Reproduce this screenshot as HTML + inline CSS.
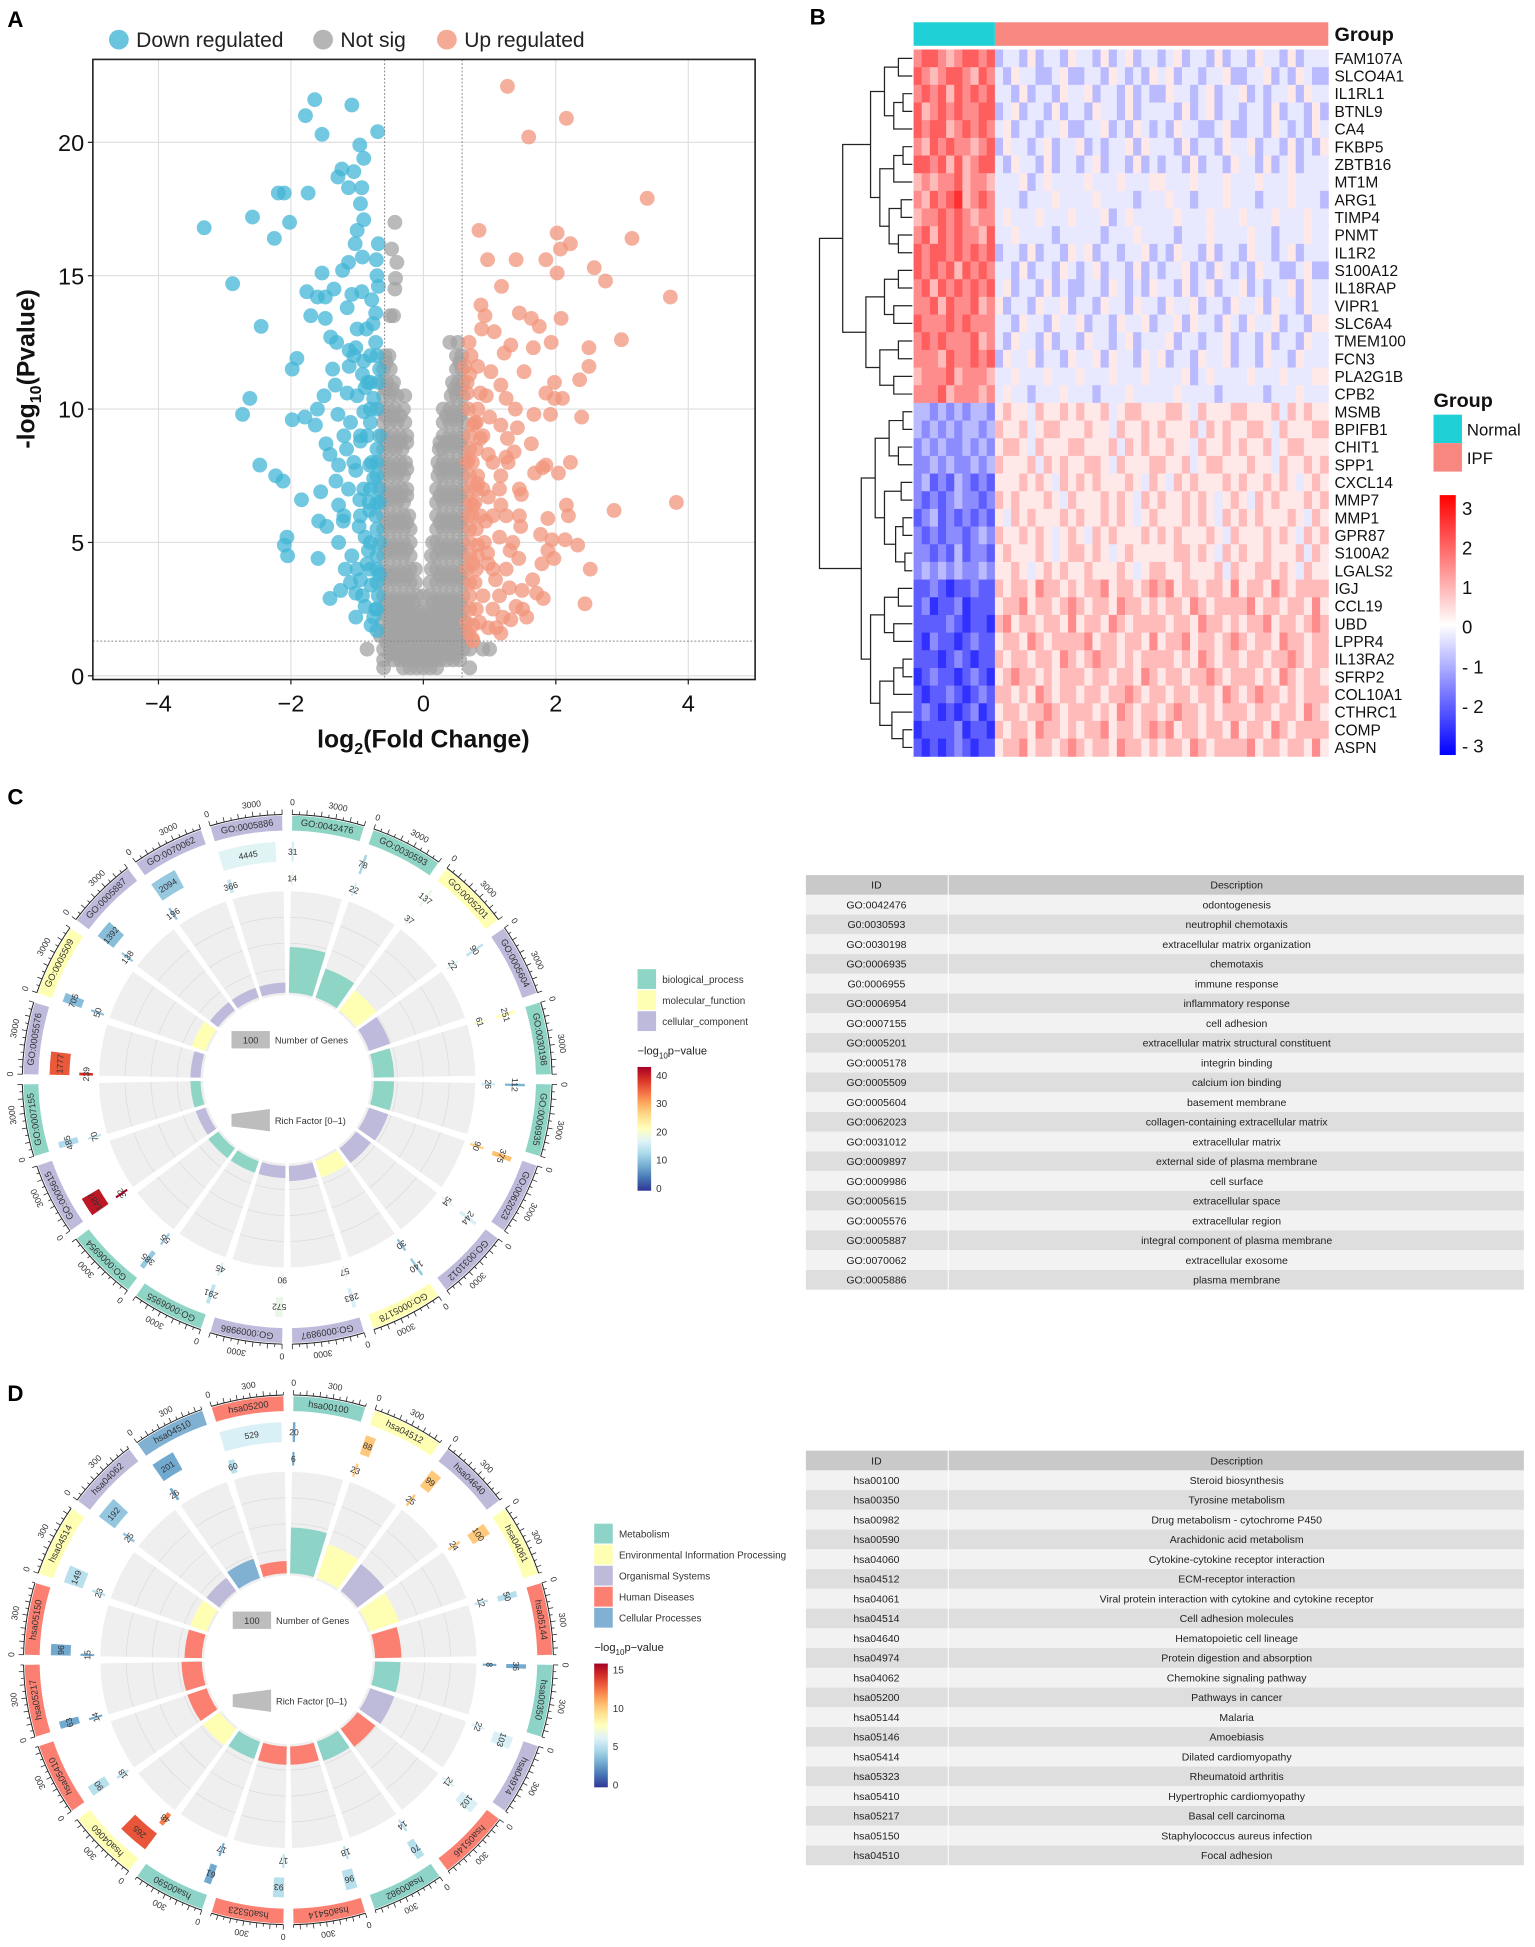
<!DOCTYPE html>
<html><head><meta charset="utf-8">
<style>
html,body{margin:0;padding:0;background:#fff;}
svg{display:block;font-family:"Liberation Sans",Arial,sans-serif;}
</style></head>
<body>
<svg id="fig" xmlns="http://www.w3.org/2000/svg" width="1535" height="1947" viewBox="0 0 1240 1573" preserveAspectRatio="none">
<rect x="0" y="0" width="1240" height="1573" fill="#fff"/>
<text x="6" y="22" font-size="18" font-weight="bold">A</text>
<text x="654" y="20" font-size="18" font-weight="bold">B</text>
<text x="6" y="650" font-size="18" font-weight="bold">C</text>
<text x="6" y="1132" font-size="18" font-weight="bold">D</text>
<g id="volcano"></g>
<g id="heat"></g>
<g id="circC"></g>
<g id="circD"></g>
<g id="tables"></g>
</svg>
<script>
// ================= Volcano data =================
const blueX=[-3.31,-2.58,-2.88,-2.45,-2.62,-2.73,-2.19,-2.1,-2.25,-2.02,-1.74,-1.78,-1.64,-1.53,-1.08,-0.69,-0.96,-0.9,-1.23,-1.29,-1.05,-1.13,-0.93,-0.95,-0.9,-1.0,-1.03,-0.68,-0.71,-0.92,-1.53,-1.13,-1.22,-1.76,-1.6,-1.48,-1.35,-1.08,-0.93,-0.78,-1.7,-1.48,-1.15,-0.72,-1.4,-1.31,-1.12,-1.02,-0.72,-1.91,-1.98,-1.37,-1.12,-0.92,-1.33,-1.5,-1.15,-0.88,-1.6,-1.79,-1.98,-1.63,-1.29,-1.1,-0.9,-1.47,-1.41,-1.16,-0.95,-1.28,-1.02,-0.81,-2.47,-2.23,-2.12,-1.32,-1.55,-1.13,-1.84,-1.28,-0.96,-0.81,-1.58,-1.46,-1.21,-0.97,-2.06,-2.1,-2.05,-1.59,-1.28,-1.08,-0.83,-1.18,-0.95,-1.41,-1.25,-1.02,-0.79,-1.02,-0.79,-0.72,
-0.68,-0.7,-0.66,-0.72,-0.67,-0.7,-0.66,-0.7,-0.68,-0.7,-0.8,-0.82,-0.78,-0.85,-0.8,-0.84,-0.8,-0.86,-0.9,-0.92,-0.88,-0.75,-0.7,-0.85,-0.95,-0.95,-1.0,-1.05,-0.76,-0.68,-0.7,-0.66,-0.66,-0.66,-1.05,-1.2,-1.0,-1.1,-1.2,-1.0,-0.75,-0.75,-0.9,-0.88,
-0.7,-0.7,-0.7,-0.7,-0.7,-0.7,-0.7,-0.8,-0.8,-0.8,-0.8];
const blueY=[16.8,17.2,14.7,13.1,10.4,9.8,18.1,18.1,16.4,17.0,18.1,21.0,21.6,20.3,21.4,20.4,19.9,19.4,19.0,18.7,18.9,18.3,18.3,17.7,17.1,16.7,16.2,16.2,15.6,15.7,15.1,15.5,15.2,14.4,14.2,14.2,14.5,14.3,14.4,14.1,13.5,13.4,13.8,13.6,12.7,12.5,12.2,12.3,12.5,11.9,11.5,11.5,11.6,11.3,10.9,10.5,10.6,10.8,10.0,9.7,9.6,9.4,9.8,9.5,9.9,8.7,8.3,8.5,8.8,7.9,7.7,7.9,7.9,7.5,7.3,7.3,6.9,7.0,6.6,6.4,6.6,6.2,5.8,5.6,5.8,5.6,5.2,4.9,4.5,4.4,5.0,4.5,4.7,4.0,3.6,2.9,3.2,3.1,3.4,2.2,1.9,2.5,
3,4,5,6,7,8,9,10,11,12,5,6.5,8,9,10,11,12,13,7,3,2.6,2.2,1.7,4.2,6,9,10.5,12,13.2,14.6,15,11.5,6.5,3.8,8,6,4,3.5,9,13,7.4,10.4,11.8,5.2,
2.5,3.5,4.5,5.5,6.5,7.5,8.5,4,7,9.5,11];
const redX=[1.27,2.16,1.59,3.38,0.84,2.02,3.15,2.22,2.07,0.97,1.4,1.85,2.02,2.58,2.75,3.73,1.18,0.87,0.93,1.45,1.63,2.08,1.75,0.88,1.07,0.69,1.32,1.66,1.93,2.99,2.5,2.5,1.22,0.63,0.82,1.02,1.52,2.36,1.98,1.17,0.86,1.85,2.1,1.98,1.25,1.39,0.82,1.67,1.92,2.39,1.0,0.75,1.17,1.42,0.86,1.27,1.63,1.37,0.98,0.68,1.28,1.85,2.22,1.8,2.04,1.68,1.17,0.82,1.45,1.48,0.98,0.75,1.17,2.16,2.88,3.82,2.19,1.45,1.88,0.94,1.47,1.77,1.94,2.14,2.33,1.88,1.97,1.79,1.31,0.82,0.98,1.44,2.52,1.65,1.09,1.49,1.71,1.81,2.44,1.5,1.56,1.32,0.75,0.98,1.17,0.75,
0.65,0.7,0.66,0.7,0.68,0.7,0.66,0.7,0.68,0.66,0.8,0.78,0.82,0.8,0.78,0.82,0.8,0.78,0.9,0.92,0.9,0.9,0.95,1.05,1.05,1.05,1.05,1.15,1.15,1.15,1.25,1.25,1.25,1.35,0.68,0.74,0.85,1.1,1.2,1.3,1.4,0.7,0.66,0.72,0.75,0.74,0.74,0.86,0.97,
0.7,0.7,0.7,0.7,0.7,0.7,0.7,0.8,0.8,0.8];
const redY=[22.1,20.9,20.2,17.9,16.7,16.6,16.4,16.2,16.0,15.6,15.6,15.6,15.1,15.3,14.8,14.2,14.6,13.9,13.5,13.6,13.4,13.4,13.1,13.0,12.9,12.5,12.4,12.3,12.5,12.6,12.3,11.6,12.1,11.6,11.6,11.4,11.4,11.1,11.0,10.9,10.6,10.6,10.4,10.4,10.4,10.0,10.0,9.8,9.8,9.7,9.7,9.4,9.4,9.3,8.9,8.9,8.7,8.4,8.3,8.1,8.0,7.9,8.0,7.8,7.6,7.6,7.5,7.2,7.0,6.8,6.7,6.4,6.4,6.4,6.2,6.5,6.0,6.0,5.9,5.8,5.6,5.3,5.1,5.1,4.9,4.7,4.4,4.2,4.7,4.9,4.2,4.4,4.0,3.6,3.6,3.2,3.1,2.9,2.7,2.5,2.2,2.1,1.9,1.8,1.6,1.3,
2,3,4,5,6,7,8,9,10,11,2.5,3.5,4.5,5.5,6.5,7.5,8.5,9.5,3,5,7,9,10.5,2.5,4,6,8,3,5.2,7,4,6,8.2,5,1.6,1.4,2,1.8,2.2,3.3,2.6,11.3,10.6,12,4.2,6,8,6,4.6,
2.5,3.5,4.5,5.5,6.5,7.5,8.5,4,7,9.5];
const greyRowY=[17,16,15.5,14.9,14.5,13.5,12.5,12,11.75,11.5,11,10.75,10.5,10,9.75,9.5,9,8.75,8.5,8,7.75,7.5,7,6.75,6.5,6,5.75,5.5,5,4.75,4.5,4,3.75,3.5,3,2.75,2.5,2.25,2,1.75,1.5,1.25,1,0.8,0.6,0.3];
const greyRowX=[[-0.43],[-0.48],[-0.4],[-0.42],[-0.43],[-0.5,-0.45],[0.52,0.4],
[-0.58,-0.52,0.5,0.58],[-0.56,0.55],[-0.6,-0.5,0.58,0.5],[-0.62,-0.55,-0.45,0.6,0.52,0.44],[-0.57,-0.47,0.56,0.47],[-0.6,-0.5,-0.4,-0.28,0.6,0.5,0.42],[-0.62,-0.52,-0.43,-0.3,0.6,0.5,0.4,0.3],[-0.57,-0.47,-0.35,0.55,0.45,0.35],
[-0.6,-0.5,-0.4,-0.28,0.6,0.5,0.4,0.3],[-0.62,-0.55,-0.45,-0.35,-0.25,0.6,0.5,0.4,0.3],[-0.55,-0.45,-0.35,-0.25,0.55,0.45,0.35,0.25],[-0.6,-0.5,-0.42,-0.32,0.6,0.5,0.4,0.3,0.24],[-0.62,-0.55,-0.45,-0.35,-0.27,0.6,0.5,0.4,0.3,0.22],[-0.55,-0.45,-0.35,-0.25,0.55,0.45,0.35,0.25],
[-0.6,-0.5,-0.4,-0.3,0.6,0.5,0.4,0.3,0.22],[-0.62,-0.52,-0.43,-0.33,-0.25,0.6,0.5,0.4,0.3,0.2],[-0.55,-0.45,-0.35,-0.25,0.55,0.45,0.35,0.25],[-0.6,-0.5,-0.4,-0.3,0.6,0.5,0.4,0.3,0.2],[-0.6,-0.5,-0.4,-0.3,-0.22,0.6,0.5,0.4,0.3,0.2],[-0.55,-0.45,-0.35,-0.25,0.55,0.45,0.35,0.25],
[-0.6,-0.5,-0.4,-0.3,-0.2,0.6,0.5,0.4,0.3,0.2],[-0.6,-0.5,-0.4,-0.3,-0.2,0.6,0.5,0.4,0.3,0.2,0.14],[-0.55,-0.45,-0.35,-0.25,0.55,0.45,0.35,0.25],[-0.6,-0.5,-0.4,-0.3,-0.2,0.6,0.5,0.4,0.3,0.2,0.12],[-0.6,-0.5,-0.4,-0.3,-0.2,-0.12,0.6,0.5,0.4,0.3,0.2,0.12],[-0.55,-0.45,-0.35,-0.25,0.55,0.45,0.35,0.25],
[-0.6,-0.5,-0.4,-0.3,-0.2,-0.12,0.6,0.5,0.4,0.3,0.2,0.1],[-0.6,-0.5,-0.4,-0.3,-0.2,-0.1,0,0.1,0.2,0.3,0.4,0.5,0.6],[-0.55,-0.45,-0.35,-0.25,-0.15,0.15,0.25,0.35,0.45,0.55],[-0.6,-0.5,-0.4,-0.3,-0.2,-0.1,0,0.1,0.2,0.3,0.4,0.5,0.6],
[-0.55,-0.45,-0.35,-0.25,-0.15,-0.05,0.05,0.15,0.25,0.35,0.45,0.55],[-0.62,-0.5,-0.4,-0.3,-0.2,-0.1,0,0.1,0.2,0.3,0.4,0.5,0.62],[-0.55,-0.45,-0.35,-0.25,-0.15,-0.05,0.05,0.15,0.25,0.35,0.45,0.55],[-0.65,-0.55,-0.45,-0.35,-0.25,-0.15,-0.05,0.05,0.15,0.25,0.35,0.45,0.55,0.65],[-0.55,-0.45,-0.35,-0.25,-0.15,-0.05,0.05,0.15,0.25,0.35,0.45,0.55],[-0.85,-0.6,-0.5,-0.4,-0.3,-0.2,-0.1,0,0.1,0.2,0.3,0.4,0.5,0.6,0.7,0.9,1.0],
[-0.5,-0.4,-0.3,-0.2,-0.1,0,0.1,0.2,0.3,0.4,0.5],[-0.6,-0.45,-0.35,-0.25,-0.15,-0.05,0.05,0.15,0.25,0.35,0.45,0.55],[-0.6,-0.3,-0.2,-0.1,0,0.1,0.2,0.7]];
const xTicks=[-4,-2,0,2,4];
const yTicks=[0,5,10,15,20];

// ================= Heatmap data =================
const genes=["FAM107A","SLCO4A1","IL1RL1","BTNL9","CA4","FKBP5","ZBTB16","MT1M","ARG1","TIMP4","PNMT","IL1R2","S100A12","IL18RAP","VIPR1","SLC6A4","TMEM100","FCN3","PLA2G1B","CPB2","MSMB","BPIFB1","CHIT1","SPP1","CXCL14","MMP7","MMP1","GPR87","S100A2","LGALS2","IGJ","CCL19","UBD","LPPR4","IL13RA2","SFRP2","COL10A1","CTHRC1","COMP","ASPN"];
const normalCount=10;
const heatRows=[
"7887678878 3443534435 4435345344 3453443534 4354435344 4",
"8767887687 4354433453 3443543435 4534434453 3445343543 3",
"7878687878 4435344354 4534435343 3544345344 5343445354 4",
"8678787788 3453443534 4354435344 4435345344 3443534435 3",
"8788678787 4534434453 3445343543 4354433453 3443543435 4",
"7687877678 3544345344 5343445354 4435344354 4534435343 5",
"8878686788 4354435344 3453443534 3443534435 4435345344 4",
"6767786776 4445345444 4544454445 5444544454 4454445444 4",
"7687896787 4443444544 4454444344 4544344454 4434445444 3",
"6778787677 4544454445 4445345444 4454445444 5444544454 4",
"7868787768 4454444344 4443444544 4434445444 4544344454 4",
"8788787878 3443534435 4534434453 4354435344 3544345344 4",
"8787868787 4435344354 3453443534 3445343543 4354433453 3",
"7868787878 4534435343 3443543435 4435345344 5343445354 4",
"7786877867 5344354453 4435443544 3544534435 4453544354 4",
"8777878777 4435443544 5344354453 4453544354 3544534435 5",
"7878777867 4354435344 3544345344 4534434453 4435344354 4",
"7776877878 3544534435 4453544354 5344354453 4435443544 4",
"6777867776 4454445444 5444544454 4445345444 4544454445 5",
"7778677767 4544344454 4434445444 4454444344 4443444544 4",
"3323232332 5655465565 6556456655 5665465556 6555646565 5",
"3232323323 6556456655 5655465565 6555646565 5665465556 6",
"2323223232 5665465556 6555646565 5655465565 6556456655 5",
"2232322323 6555646565 5665465556 6556456655 5655465565 6",
"2312132121 5556565465 6565556546 5465655565 6556565456 5",
"2121232212 6565556546 5556565465 6556565456 5465655565 6",
"1231212121 5465655565 6556565456 5556565465 6565556546 5",
"2121221232 6556565456 5465655565 6565556546 5556565465 6",
"2212131221 5655565456 6565456555 5566565465 6556555646 5",
"2323232232 5565456565 5655565456 6556555646 5566565465 5",
"1121011211 6566576656 5667566567 6756656657 5665765666 6",
"1201120111 5667566567 6566576656 5665765666 6756656657 5",
"1111210110 6756656657 5665765666 6566576656 5667566567 6",
"1021101211 5665765666 6756656657 5667566567 6566576656 6",
"1110121011 6566566576 5676656566 6656576566 5665667656 6",
"0121101210 5676656566 6566566576 5665667656 6656576566 5",
"1011210121 6656576566 5665667656 6566566576 5676656566 6",
"1210101201 5665667656 6656576566 5676656566 6566566576 5",
"0111120110 6566576656 5667566567 6756656657 5665765666 6",
"1010121011 5667566567 6566576656 5665765666 6756656657 5"];
const colorTicks=[3,2,1,0,-1,-2,-3];

// ================= Circle C data =================
const goIds=["GO:0042476","GO:0030593","GO:0005201","GO:0005604","GO:0030198","GO:0006935","GO:0062023","GO:0031012","GO:0005178","GO:0009897","GO:0009986","GO:0006955","GO:0006954","GO:0005615","GO:0007155","GO:0005576","GO:0005509","GO:0005887","GO:0070062","GO:0005886"];
const goCats=[0,0,1,2,0,0,2,2,1,2,2,0,0,2,0,2,1,2,2,2];
const goBg=[31,78,137,90,251,112,375,244,140,283,572,291,385,1487,485,1777,705,1392,2094,4445];
const goDe=[14,22,37,22,61,26,90,54,30,57,90,45,55,32,70,239,50,138,196,366];
const goBgP=[16,12,18,14,21,9,28,16,11,16,18,14,11,40,13,35,10,10,11,17];
const goDeP=[18,16,18,17,20,15,27,18,10,18,18,16,11,42,14,38,10,11,10,15];
const goRich=[0.45,0.3,0.25,0.22,0.2,0.2,0.2,0.18,0.17,0.15,0.12,0.12,0.12,0.1,0.1,0.1,0.14,0.1,0.1,0.1];
const goCatNames=["biological_process","molecular_function","cellular_component"];

// ================= Circle D data =================
const keggIds=["hsa00100","hsa04512","hsa04640","hsa04061","hsa05144","hsa00350","hsa04974","hsa05146","hsa00982","hsa05414","hsa05323","hsa00590","hsa04060","hsa05410","hsa05217","hsa05150","hsa04514","hsa04062","hsa04510","hsa05200"];
const keggCats=[0,1,2,1,3,0,2,3,0,3,3,0,1,3,3,3,1,2,4,3];
const keggBg=[20,88,99,100,50,36,103,102,70,96,93,61,265,90,63,96,149,192,201,529];
const keggDe=[6,23,25,24,12,8,22,21,14,18,17,17,48,18,14,15,23,25,26,60];
const keggBgP=[3,10,10,10,5,3,6,6,5,5,5,3,13,5,3,3,5,4,3,6];
const keggDeP=[3,10,10,10,5,3,6,6,5,5,5,3,12,5,3,3,5,4,3,5];
const keggRich=[0.45,0.35,0.33,0.3,0.26,0.25,0.25,0.22,0.2,0.18,0.18,0.18,0.2,0.2,0.2,0.17,0.17,0.16,0.2,0.12];
const keggCatNames=["Metabolism","Environmental Information Processing","Organismal Systems","Human Diseases","Cellular Processes"];

// ================= Table data =================
const goDesc=["odontogenesis","neutrophil chemotaxis","extracellular matrix organization","chemotaxis","immune response","inflammatory response","cell adhesion","extracellular matrix structural constituent","integrin binding","calcium ion binding","basement membrane","collagen-containing extracellular matrix","extracellular matrix","external side of plasma membrane","cell surface","extracellular space","extracellular region","integral component of plasma membrane","extracellular exosome","plasma membrane"];
const goTableIds=["GO:0042476","G0:0030593","GO:0030198","GO:0006935","G0:0006955","GO:0006954","GO:0007155","GO:0005201","GO:0005178","GO:0005509","GO:0005604","GO:0062023","GO:0031012","GO:0009897","GO:0009986","GO:0005615","GO:0005576","GO:0005887","GO:0070062","GO:0005886"];
const keggTableIds=["hsa00100","hsa00350","hsa00982","hsa00590","hsa04060","hsa04512","hsa04061","hsa04514","hsa04640","hsa04974","hsa04062","hsa05200","hsa05144","hsa05146","hsa05414","hsa05323","hsa05410","hsa05217","hsa05150","hsa04510"];
const keggDesc=["Steroid biosynthesis","Tyrosine metabolism","Drug metabolism - cytochrome P450","Arachidonic acid metabolism","Cytokine-cytokine receptor interaction","ECM-receptor interaction","Viral protein interaction with cytokine and cytokine receptor","Cell adhesion molecules","Hematopoietic cell lineage","Protein digestion and absorption","Chemokine signaling pathway","Pathways in cancer","Malaria","Amoebiasis","Dilated cardiomyopathy","Rheumatoid arthritis","Hypertrophic cardiomyopathy","Basal cell carcinoma","Staphylococcus aureus infection","Focal adhesion"];

const NS="http://www.w3.org/2000/svg";
function mk(tag,attrs,parent,txt){const e=document.createElementNS(NS,tag);for(const k in attrs)e.setAttribute(k,attrs[k]);if(txt!==undefined)e.textContent=txt;parent.appendChild(e);return e;}

// ================= Volcano =================
(function(){
const g=document.getElementById('volcano');
const X0=75,X1=610,Y0=48,Y1=549;
const sx=v=>342+v*53.5, sy=v=>546-v*21.55;
let e;
e=mk('rect',{x:X0,y:Y0,width:X1-X0,height:Y1-Y0,fill:'#fff'},g);


[-4,-2,0,2,4].forEach(v=>{e=mk('line',{x1:sx(v),x2:sx(v),y1:Y0,y2:Y1,stroke:'#dedede','stroke-width':0.9},g);

});
yTicks.forEach(v=>{e=mk('line',{x1:X0,x2:X1,y1:sy(v),y2:sy(v),stroke:'#dedede','stroke-width':0.9},g);

});
const pts=(xs,ys,col,name)=>{for(let i=0;i<xs.length;i++){e=mk('circle',{cx:sx(xs[i]),cy:sy(ys[i]),r:6,fill:col,'fill-opacity':0.75},g);

}};
const gx=[],gy=[];greyRowY.forEach((y,i)=>greyRowX[i].forEach(x=>{gx.push(x);gy.push(y);}));
pts(gx,gy,'#a3a3a3','not-sig-point');
pts(blueX,blueY,'#43b6d5','down-point');
pts(redX,redY,'#f2957c','up-point');
[-0.585,0.585].forEach(v=>{e=mk('line',{x1:sx(v),x2:sx(v),y1:Y0,y2:Y1,stroke:'#888','stroke-width':0.8,'stroke-dasharray':'1.5,1.5'},g);

});
e=mk('line',{x1:X0,x2:X1,y1:sy(1.3),y2:sy(1.3),stroke:'#888','stroke-width':0.8,'stroke-dasharray':'1.5,1.5'},g);


e=mk('rect',{x:X0,y:Y0,width:X1-X0,height:Y1-Y0,fill:'none',stroke:'#222','stroke-width':1.3},g);


xTicks.forEach(v=>{e=mk('line',{x1:sx(v),x2:sx(v),y1:Y1,y2:Y1+4,stroke:'#222'},g);


e=mk('text',{x:sx(v),y:575,'font-size':19,'text-anchor':'middle',fill:'#111'},g,v<0?'\u2212'+(-v):String(v));

});
yTicks.forEach(v=>{e=mk('line',{x1:X0-4,x2:X0,y1:sy(v),y2:sy(v),stroke:'#222'},g);


e=mk('text',{x:68,y:sy(v)+7,'font-size':19,'text-anchor':'end',fill:'#111'},g,String(v));

});
e=mk('text',{x:342,y:604,'font-size':20,'font-weight':'bold','text-anchor':'middle',fill:'#111'},g);


e.innerHTML='log<tspan font-size="13" dy="5">2</tspan><tspan dy="-5">(Fold Change)</tspan>';
e=mk('text',{x:0,y:0,'font-size':20,'font-weight':'bold','text-anchor':'middle',fill:'#111',transform:'translate(28,298) rotate(-90)'},g);


e.innerHTML='-log<tspan font-size="13" dy="5">10</tspan><tspan dy="-5">(Pvalue)</tspan>';
const leg=[['#43b6d5','Down regulated',96],['#a3a3a3','Not sig',261],['#f2957c','Up regulated',361]];
leg.forEach(l=>{e=mk('circle',{cx:l[2],cy:32,r:8,fill:l[0],'fill-opacity':0.8},g);


e=mk('text',{x:l[2]+14,y:38,'font-size':17,fill:'#222'},g,l[1]);

});
})();

// ================= Heatmap =================
(function(){
const g=document.getElementById('heat');
const x0=738,x1=1073,y0=40,y1=611;
const rows=heatRows.map(s=>s.replace(/ /g,''));
const nc=rows[0].length, cw=(x1-x0)/nc, rh=(y1-y0)/genes.length;
const col=v=>{const t=Math.max(-1,Math.min(1,v/3));if(t>0){const c=Math.round(255*(1-t));return `rgb(255,${c},${c})`;}const c=Math.round(255*(1+t));return `rgb(${c},${c},255)`;};
let e;
rows.forEach((r,i)=>{for(let j=0;j<nc;j++){const v=(parseInt(r[j])-4.5)/1.85;
e=mk('rect',{x:x0+j*cw,y:y0+i*rh,width:cw+0.4,height:rh+0.4,fill:col(v)},g);

}
e=mk('text',{x:1078,y:y0+i*rh+rh/2+4.5,'font-size':12.5,fill:'#111'},g,genes[i]);

});
e=mk('rect',{x:x0,y:18,width:normalCount*cw,height:19,fill:'#1fd0d6'},g);


e=mk('rect',{x:x0+normalCount*cw,y:18,width:(nc-normalCount)*cw,height:19,fill:'#f8877f'},g);


e=mk('text',{x:1078,y:33,'font-size':16,'font-weight':'bold',fill:'#111'},g,'Group');


const tree=[1,[0.75,[0.45,[0.3,[0.15,0,1],[0.2,[0.1,2,3],4]],[0.35,[0.2,[0.1,5,6],7],[0.25,[0.12,8,9],[0.15,10,11]]]],[0.5,[0.3,[0.15,12,13],[0.2,14,15]],[0.35,[0.15,16,17],[0.2,18,19]]]],
[0.55,[0.4,[0.25,[0.1,20,21],[0.15,22,23]],[0.3,[0.12,24,25],[0.18,[0.1,26,27],[0.08,28,29]]]],[0.45,[0.3,[0.15,30,31],[0.2,32,33]],[0.35,[0.2,[0.1,34,35],36],[0.22,37,[0.1,38,39]]]]]];
const hx=h=>737-h*75;
let d='';
function walk(n){if(typeof n==='number')return [y0+n*rh+rh/2,0];
const a=walk(n[1]),b=walk(n[2]);const x=hx(n[0]);
d+=`M${hx(a[1])},${a[0]}H${x}V${b[0]}H${hx(b[1])}`;return [(a[0]+b[0])/2,n[0]];}
walk(tree);
e=mk('path',{d:d,fill:'none',stroke:'#222','stroke-width':1},g);


e=mk('text',{x:1158,y:329,'font-size':16,'font-weight':'bold',fill:'#111'},g,'Group');


[['#1fd0d6','Normal',335],['#f8877f','IPF',358]].forEach(l=>{e=mk('rect',{x:1158,y:l[2],width:23,height:23,fill:l[0]},g);


e=mk('text',{x:1185,y:l[2]+17,'font-size':13.5,fill:'#111'},g,l[1]);

});
const defs=mk('defs',{},g);
const lg=mk('linearGradient',{id:'hg',x1:0,y1:0,x2:0,y2:1},defs);
mk('stop',{offset:'0','stop-color':'#ff0000'},lg);mk('stop',{offset:'0.5','stop-color':'#ffffff'},lg);mk('stop',{offset:'1','stop-color':'#0000ff'},lg);
e=mk('rect',{x:1163,y:400,width:13,height:210,fill:'url(#hg)'},g);


colorTicks.forEach(v=>{const y=506-v*32;
e=mk('text',{x:1181,y:y+6,'font-size':15,fill:'#111'},g,v<0?'- '+(-v):String(v));

});
})();

// ================= Circle plots =================
function rdylbu(t){const st=['#313695','#4575b4','#74add1','#abd9e9','#e0f3f8','#ffffbf','#fee090','#fdae61','#f46d43','#d73027','#a50026'];
t=Math.max(0,Math.min(1,t));const f=t*10,i=Math.min(9,Math.floor(f)),u=f-i;
const h=s=>[parseInt(s.substr(1,2),16),parseInt(s.substr(3,2),16),parseInt(s.substr(5,2),16)];
const a=h(st[i]),b=h(st[i+1]);return `rgb(${a.map((v,k)=>Math.round(v+(b[k]-v)*u)).join(',')})`;}
function pt(cx,cy,r,a){const t=a*Math.PI/180;return [cx+r*Math.sin(t),cy-r*Math.cos(t)];}
function sec(cx,cy,r0,r1,a0,a1){const p1=pt(cx,cy,r1,a0),p2=pt(cx,cy,r1,a1),p3=pt(cx,cy,r0,a1),p4=pt(cx,cy,r0,a0);const L=(a1-a0)>180?1:0;
return `M${p1}A${r1},${r1} 0 ${L} 1 ${p2}L${p3}A${r0},${r0} 0 ${L} 0 ${p4}Z`;}
function circos(g,cx,cy,ids,cats,catCols,bg,de,bgP,deP,rich,maxV,tickStep,labV,pMax,catNames,legX,legY,pTicks){
let e;
const n=ids.length,sw=360/n,gap=1.1;
for(let i=0;i<n;i++){
 const a0=i*sw+gap,a1=(i+1)*sw-gap,am=(a0+a1)/2,span=a1-a0;
 e=mk('path',{d:sec(cx,cy,68,152,a0,a1),fill:'#efefef'},g);
 
 
 [89,110,131].forEach(r=>{const p=pt(cx,cy,r,a0),q=pt(cx,cy,r,a1);
  e=mk('path',{d:`M${p}A${r},${r} 0 0 1 ${q}`,fill:'none',stroke:'#dcdcdc','stroke-width':0.6},g);
  
  });
 e=mk('path',{d:sec(cx,cy,70,70+rich[i]*82,a0,a1),fill:catCols[cats[i]]},g);
 
 
 e=mk('path',{d:sec(cx,cy,201,213,a0,a1),fill:catCols[cats[i]]},g);
 
 
 let p=pt(cx,cy,207,am);
 e=mk('text',{x:p[0],y:p[1]+2.7,'font-size':7.5,'text-anchor':'middle',fill:'#333',transform:`rotate(${am} ${p[0]} ${p[1]})`},g,ids[i]);
 
 
 const ps=pt(cx,cy,214,a0),pe=pt(cx,cy,214,a1);
 e=mk('path',{d:`M${ps}A214,214 0 0 1 ${pe}`,fill:'none',stroke:'#222','stroke-width':0.8},g);
 
 
 let td='';for(let v=0;v<=maxV;v+=tickStep){const a=a0+v/maxV*span;const q1=pt(cx,cy,214,a),q2=pt(cx,cy,v%(tickStep*2)===0?218:216.5,a);td+=`M${q1}L${q2}`;}
 e=mk('path',{d:td,stroke:'#222','stroke-width':0.6},g);
 
 
 [[0,'0'],[labV,String(labV)]].forEach(t=>{const a=a0+t[0]/maxV*span;const q=pt(cx,cy,224,a);
  e=mk('text',{x:q[0],y:q[1]+2.5,'font-size':7,'text-anchor':'middle',fill:'#333',transform:`rotate(${a} ${q[0]} ${q[1]})`},g,t[1]);
  
  });
 [[bg[i],bgP[i],176,192,'background-count-bar'],[de[i],deP[i],157,168,'de-count-bar']].forEach(b=>{
  const aw=Math.max(0.6,b[0]/maxV*span);const ae=a0+aw;
  e=mk('path',{d:sec(cx,cy,b[2],b[3],a0,ae),fill:rdylbu(b[1]/pMax)},g);
  
  
  const ac=a0+aw/2,q=pt(cx,cy,(b[2]+b[3])/2,ac);
  e=mk('text',{x:q[0],y:q[1]+2.5,'font-size':7,'text-anchor':'middle',fill:'#333',transform:`rotate(${ac} ${q[0]} ${q[1]})`},g,String(b[0]));
  
  });
}
e=mk('rect',{x:cx-45,y:cy-39,width:31,height:14,fill:'#bdbdbd'},g);


e=mk('text',{x:cx-29.5,y:cy-29,'font-size':7.5,'text-anchor':'middle',fill:'#333'},g,'100');


e=mk('text',{x:cx-10,y:cy-29,'font-size':7.5,fill:'#333'},g,'Number of Genes');


e=mk('path',{d:`M${cx-45},${cy+28}L${cx-14},${cy+24}L${cx-14},${cy+42}L${cx-45},${cy+38}Z`,fill:'#bdbdbd'},g);


e=mk('text',{x:cx-10,y:cy+36,'font-size':7.5,fill:'#333'},g,'Rich Factor [0\u20131)');


catNames.forEach((nm,k)=>{e=mk('rect',{x:legX,y:legY+k*17,width:15,height:16,fill:catCols[k]},g);


e=mk('text',{x:legX+20,y:legY+k*17+11,'font-size':8,fill:'#333'},g,nm);

});
const ty=legY+catNames.length*17+18;
e=mk('text',{x:legX,y:ty,'font-size':9,fill:'#222'},g);


e.innerHTML='\u2212log<tspan font-size="6.5" dy="3">10</tspan><tspan dy="-3">p\u2212value</tspan>';
const gid='pg'+legX;const defs=mk('defs',{},g);const lg=mk('linearGradient',{id:gid,x1:0,y1:1,x2:0,y2:0},defs);
for(let k=0;k<=10;k++)mk('stop',{offset:k/10,'stop-color':rdylbu(k/10)},lg);
const by=ty+10,bh=100;
e=mk('rect',{x:legX,y:by,width:11,height:bh,fill:`url(#${gid})`},g);


pTicks.forEach(v=>{const y=by+bh-2-v/pMax*(bh-4);
e=mk('text',{x:legX+15,y:y+3,'font-size':8,fill:'#333'},g,String(v));

});
}
circos(document.getElementById('circC'),232,872,goIds,goCats,['#8fd5c6','#ffffb3','#bebadb'],goBg,goDe,goBgP,goDeP,goRich,5000,500,3000,42,goCatNames,515,783,[0,10,20,30,40]);
circos(document.getElementById('circD'),233,1341,keggIds,keggCats,['#8dd3c7','#ffffb3','#bebada','#fb8072','#80b1d3'],keggBg,keggDe,keggBgP,keggDeP,keggRich,550,50,300,15.5,keggCatNames,480,1231,[0,5,10,15]);

// ================= Tables =================
function table(g,y0,ids,desc,name){let e;const x0=651,x1=1231,xc=766,rh=15.95;
e=mk('rect',{x:x0,y:y0,width:x1-x0,height:rh,fill:'#c9c9c9'},g);


e=mk('text',{x:708,y:y0+11,'font-size':8.5,'text-anchor':'middle',fill:'#222'},g,'ID');


e=mk('text',{x:999,y:y0+11,'font-size':8.5,'text-anchor':'middle',fill:'#222'},g,'Description');


ids.forEach((id,i)=>{const y=y0+(i+1)*rh;
e=mk('rect',{x:x0,y:y,width:x1-x0,height:rh,fill:i%2===0?'#f2f2f2':'#dedede'},g);


e=mk('text',{x:708,y:y+11,'font-size':8.5,'text-anchor':'middle',fill:'#222'},g,id);


e=mk('text',{x:999,y:y+11,'font-size':8.5,'text-anchor':'middle',fill:'#222'},g,desc[i]);

});
e=mk('line',{x1:xc,x2:xc,y1:y0,y2:y0+rh*(ids.length+1),stroke:'#fff','stroke-width':0.8},g);

}
table(document.getElementById('tables'),707,goTableIds,goDesc,'go-table');
table(document.getElementById('tables'),1172,keggTableIds,keggDesc,'kegg-table');
</script>
</body></html>
